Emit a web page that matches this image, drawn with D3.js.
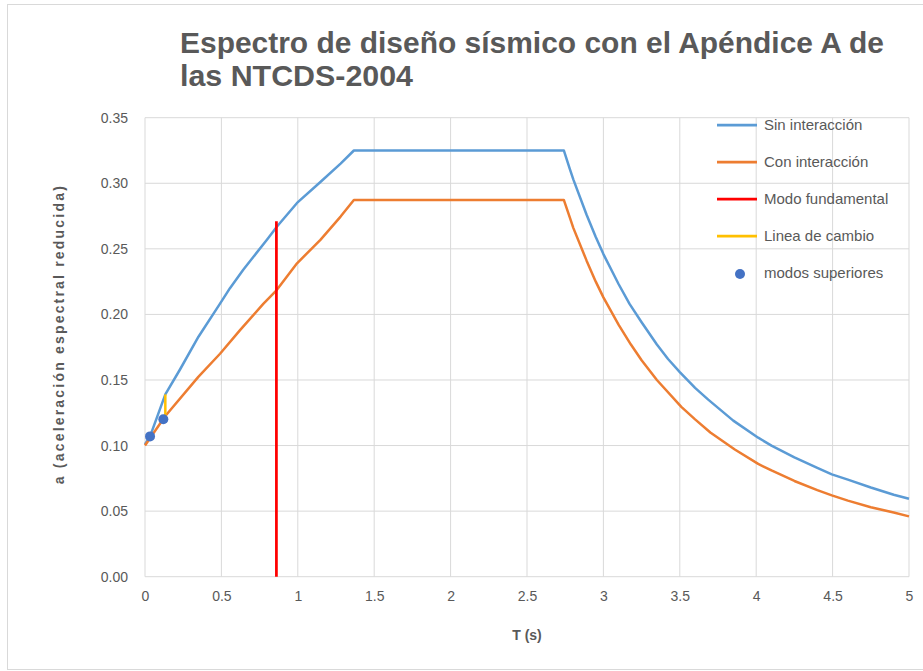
<!DOCTYPE html>
<html>
<head>
<meta charset="utf-8">
<script src="https://cdn.jsdelivr.net/npm/d3@7"></script>
<style>
  body { margin: 0; background: #fff; }
  .chart { width: 923px; height: 671px; }
</style>
</head>
<body>
<div class="chart"></div>
<script>
// 数据：周期 T (s) 与加速度 a
const sinT = [0, 0.033, 0.133, 0.229, 0.35, 0.49, 0.556, 0.643, 0.798, 0.864, 0.995, 1.148, 1.28, 1.367,
  2.741, 2.78, 2.803, 2.89, 2.95, 3.0, 3.1, 3.171, 3.25, 3.35, 3.423, 3.5, 3.6, 3.686, 3.85, 4.013, 4.1, 4.25,
  4.4, 4.495, 4.6, 4.75, 4.9, 5.0];
const sinA = [0.101, 0.107, 0.139, 0.158, 0.183, 0.208, 0.220, 0.234, 0.257, 0.267, 0.285, 0.301, 0.315, 0.325,
  0.325, 0.311, 0.303, 0.276, 0.259, 0.246, 0.223, 0.208, 0.194, 0.177, 0.166, 0.156, 0.144, 0.135, 0.119, 0.106, 0.100, 0.091,
  0.083, 0.078, 0.074, 0.068, 0.0625, 0.0595];

const conT = [0, 0.133, 0.349, 0.491, 0.622, 0.774, 0.862, 0.995, 1.148, 1.28, 1.367,
  2.741, 2.78, 2.803, 2.89, 2.95, 3.0, 3.1, 3.18, 3.25, 3.35, 3.51, 3.6, 3.7, 3.86, 4.013, 4.1, 4.25,
  4.4, 4.495, 4.6, 4.75, 4.9, 5.0];
const conA = [0.100, 0.1225, 0.1524, 0.170, 0.188, 0.208, 0.2186, 0.239, 0.2568, 0.2746, 0.2873,
  0.2873, 0.274, 0.266, 0.241, 0.225, 0.213, 0.192, 0.177, 0.165, 0.150, 0.1295, 0.120, 0.110, 0.097, 0.086, 0.081, 0.073,
  0.066, 0.062, 0.058, 0.053, 0.049, 0.046];

// 基本模态竖线
const modoT = [0.86, 0.86];
const modoA = [0, 0.271];

// 变化线
const cambioT = [0.133, 0.133];
const cambioA = [0.1225, 0.139];

// 高阶模态点
const modosT = [0.033, 0.12];
const modosA = [0.107, 0.120];

const xTicks = [0, 0.5, 1, 1.5, 2, 2.5, 3, 3.5, 4, 4.5, 5];
const yTicks = [0, 0.05, 0.10, 0.15, 0.20, 0.25, 0.30, 0.35];

const legendNames = ["Sin interacción", "Con interacción", "Modo fundamental", "Linea de cambio", "modos superiores"];
const legendColors = ["#5b9bd5", "#ed7d31", "#ff0000", "#ffc000", "#4472c4"];

const W = 923, H = 671;
const plot = { left: 145, right: 909, top: 117.7, bottom: 576.7 };
const textColor = "#595959";
const font = "'Liberation Sans', Arial, sans-serif";

const svg = d3.select(".chart").append("svg")
  .attr("width", W)
  .attr("height", H)
  .style("font-family", font);

// 外框
svg.append("rect")
  .attr("x", 7.5).attr("y", 4.5)
  .attr("width", W).attr("height", 665)
  .attr("fill", "#fff")
  .attr("stroke", "#d9d9d9");

const x = d3.scaleLinear().domain([0, 5]).range([plot.left, plot.right]);
const y = d3.scaleLinear().domain([0, 0.35]).range([plot.bottom, plot.top]);

// 网格线
svg.append("g")
  .selectAll("line")
  .data(yTicks)
  .join("line")
  .attr("x1", plot.left).attr("x2", plot.right)
  .attr("y1", d => y(d)).attr("y2", d => y(d))
  .attr("stroke", "#d9d9d9").attr("stroke-width", 1);

svg.append("g")
  .selectAll("line")
  .data(xTicks)
  .join("line")
  .attr("x1", d => x(d)).attr("x2", d => x(d))
  .attr("y1", plot.top).attr("y2", plot.bottom)
  .attr("stroke", "#d9d9d9").attr("stroke-width", 1);

// Y 轴
svg.append("g")
  .attr("transform", `translate(${plot.left},0)`)
  .call(d3.axisLeft(y).tickValues(yTicks).tickFormat(d3.format(".2f")).tickSize(0).tickPadding(17))
  .call(g => g.select(".domain").remove())
  .call(g => g.selectAll("text")
    .style("font-size", "14px")
    .style("font-family", font)
    .attr("fill", textColor));

// X 轴
svg.append("g")
  .attr("transform", `translate(0,${plot.bottom})`)
  .call(d3.axisBottom(x).tickValues(xTicks).tickFormat(d => String(d)).tickSize(0).tickPadding(14))
  .call(g => g.select(".domain").remove())
  .call(g => g.selectAll("text")
    .style("font-size", "14px")
    .style("font-family", font)
    .attr("fill", textColor));

// 曲线
const line = d3.line()
  .x(d => x(d[0]))
  .y(d => y(d[1]));

function drawLine(ts, as, color, width) {
  svg.append("path")
    .datum(ts.map((t, i) => [t, as[i]]))
    .attr("d", line)
    .attr("fill", "none")
    .attr("stroke", color)
    .attr("stroke-width", width)
    .attr("stroke-linejoin", "round");
}

drawLine(sinT, sinA, legendColors[0], 2.5);
drawLine(conT, conA, legendColors[1], 2.5);
drawLine(modoT, modoA, legendColors[2], 2.75);
drawLine(cambioT, cambioA, legendColors[3], 2.5);

svg.append("g")
  .selectAll("circle")
  .data(modosT.map((t, i) => [t, modosA[i]]))
  .join("circle")
  .attr("cx", d => x(d[0]))
  .attr("cy", d => y(d[1]))
  .attr("r", 5)
  .attr("fill", legendColors[4]);

// 标题
const title = svg.append("text")
  .attr("fill", textColor)
  .style("font-size", "30px")
  .style("font-weight", "bold");
title.append("tspan").attr("x", 180).attr("y", 53)
  .attr("textLength", 704).attr("lengthAdjust", "spacingAndGlyphs")
  .text("Espectro de diseño sísmico con el Apéndice A de");
title.append("tspan").attr("x", 180).attr("y", 86)
  .attr("textLength", 233).attr("lengthAdjust", "spacingAndGlyphs")
  .text("las NTCDS-2004");

// 轴标题
svg.append("text")
  .attr("x", (plot.left + plot.right) / 2)
  .attr("y", 640)
  .attr("text-anchor", "middle")
  .attr("fill", textColor)
  .style("font-size", "14px")
  .style("font-weight", "bold")
  .text("T (s)");

svg.append("text")
  .attr("transform", `translate(64,${(plot.top + plot.bottom) / 2 - 12}) rotate(-90)`)
  .attr("text-anchor", "middle")
  .attr("fill", textColor)
  .style("font-size", "14px")
  .style("font-weight", "bold")
  .attr("textLength", 298)
  .attr("lengthAdjust", "spacing")
  .text("a (aceleración espectral reducida)");

// 图例
const legend = svg.append("g");
legendNames.forEach((name, i) => {
  const ly = 125 + i * 37;
  if (i < 4) {
    legend.append("line")
      .attr("x1", 717).attr("x2", 757)
      .attr("y1", ly).attr("y2", ly)
      .attr("stroke", legendColors[i])
      .attr("stroke-width", 2.75);
  } else {
    legend.append("circle")
      .attr("cx", 740).attr("cy", ly + 1)
      .attr("r", 5)
      .attr("fill", legendColors[i]);
  }
  legend.append("text")
    .attr("x", 764)
    .attr("y", ly + 5)
    .attr("fill", textColor)
    .style("font-size", "15px")
    .text(name);
});
</script>
</body>
</html>
